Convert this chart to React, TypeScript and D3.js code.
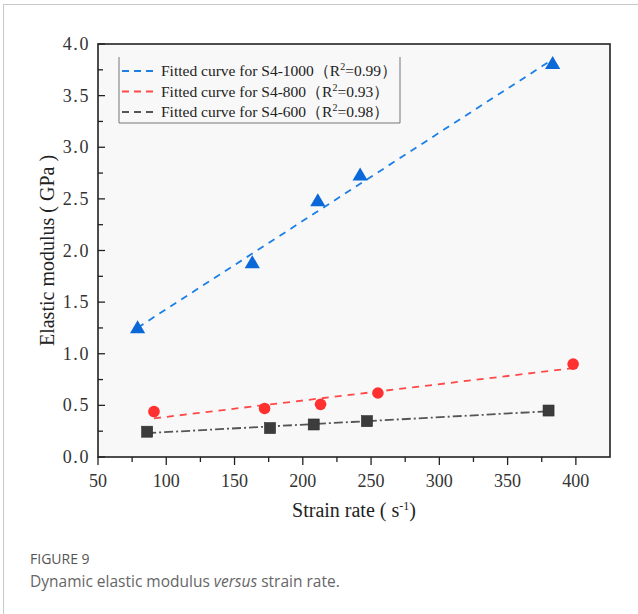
import React from 'react';
import * as d3 from 'd3';

// strain rate (s^-1) and elastic modulus (GPa)
const s1000X = [79, 163, 211, 242, 383];
const s1000Y = [1.24, 1.87, 2.47, 2.72, 3.80];
const s800X = [91, 172, 213, 255, 398];
const s800Y = [0.44, 0.47, 0.51, 0.62, 0.90];
const s600X = [86, 176, 208, 247, 380];
const s600Y = [0.245, 0.28, 0.315, 0.347, 0.45];

const xTicks = [50, 100, 150, 200, 250, 300, 350, 400];
const yTicks = [0.0, 0.5, 1.0, 1.5, 2.0, 2.5, 3.0, 3.5, 4.0];
const legendNames = ['Fitted curve for S4-1000', 'Fitted curve for S4-800', 'Fitted curve for S4-600'];
const legendR2 = ['0.99', '0.93', '0.98'];

const W = 638;
const H = 614;
const margin = { top: 44, right: 28, bottom: 157, left: 98 };

const serif = '"Liberation Serif", "Times New Roman", serif';
const sans = '"Open Sans", "Noto Sans", sans-serif';

const series = [
  { xs: s1000X, ys: s1000Y, shape: 'triangle', fill: '#0a68d8', stroke: '#1b7fe6', dash: '7,6' },
  { xs: s800X, ys: s800Y, shape: 'circle', fill: '#ff3030', stroke: '#ff4848', dash: '7,6' },
  { xs: s600X, ys: s600Y, shape: 'square', fill: '#3c3c3c', stroke: '#555555', dash: '9,3,2,3' },
];

// least squares line through the points
function fit(xs: number[], ys: number[]) {
  const mx = d3.mean(xs) as number;
  const my = d3.mean(ys) as number;
  const num = d3.sum(xs, (x, i) => (x - mx) * (ys[i] - my));
  const den = d3.sum(xs, (x) => (x - mx) * (x - mx));
  const b = num / den;
  const a = my - b * mx;
  const x0 = d3.min(xs) as number;
  const x1 = d3.max(xs) as number;
  return [[x0, a + b * x0], [x1, a + b * x1]] as [number, number][];
}

export default function App() {
  const fw = W - margin.left - margin.right;
  const fh = H - margin.top - margin.bottom;

  const x = d3.scaleLinear().domain([50, 425]).range([0, fw]);
  const y = d3.scaleLinear().domain([0, 4]).range([fh, 0]);

  const xMinor = d3.range(50, 425, 25);
  const yMinor = d3.range(0, 4.01, 0.25);

  const line = d3.line<[number, number]>()
    .x((d) => x(d[0]))
    .y((d) => y(d[1]));

  const marker = (shape: string, cx: number, cy: number, fill: string, key: number) => {
    if (shape === 'triangle') {
      const p = d3.symbol(d3.symbolTriangle, 100)();
      return <path key={key} d={p as string} transform={`translate(${cx},${cy})`} fill={fill} />;
    }
    if (shape === 'circle') {
      return <circle key={key} cx={cx} cy={cy} r={5.8} fill={fill} />;
    }
    return <rect key={key} x={cx - 5.5} y={cy - 5.5} width={11} height={11} fill={fill} stroke="#2a2a2a" strokeWidth={0.6} />;
  };

  return (
    <svg width={W} height={H} style={{ position: 'absolute', left: 0, top: 0, background: '#fff' }}>
      {/* card border */}
      <rect x={3.5} y={4.5} width={W + 10} height={H + 10} fill="none" stroke="#c8c8c8" strokeWidth={1} />

      <g transform={`translate(${margin.left},${margin.top})`}>
        <rect x={0} y={0} width={fw} height={fh} fill="#f8f8f8" />

        {/* y ticks, inward */}
        {yMinor.map((v, i) => (
          <line key={'ym' + i} x1={0} x2={Math.abs(v * 2 - Math.round(v * 2)) < 0.01 ? 7 : 5}
            y1={y(v)} y2={y(v)} stroke="#222" strokeWidth={1.3} />
        ))}
        {yTicks.map((v) => (
          <text key={'yt' + v} x={-8} y={y(v) + 6} textAnchor="end" fontFamily={serif}
            fontSize={18} letterSpacing={1.6} fill="#333">{v.toFixed(1)}</text>
        ))}

        {/* x ticks, outward */}
        {xMinor.map((v, i) => (
          <line key={'xm' + i} x1={x(v)} x2={x(v)} y1={fh}
            y2={fh + (v % 50 === 0 ? 8 : 5)} stroke="#222" strokeWidth={1.3} />
        ))}
        {xTicks.map((v) => (
          <text key={'xt' + v} x={x(v)} y={fh + 30} textAnchor="middle" fontFamily={serif}
            fontSize={18} fill="#333">{v}</text>
        ))}

        {/* fitted lines */}
        {series.map((s, i) => (
          <path key={'fit' + i} d={line(fit(s.xs, s.ys)) as string} fill="none"
            stroke={s.stroke} strokeWidth={1.8} strokeDasharray={s.dash} />
        ))}

        {/* points */}
        {series.map((s, i) => (
          <g key={'pts' + i}>
            {s.xs.map((v, j) => marker(s.shape, x(v), y(s.ys[j]), s.fill, j))}
          </g>
        ))}

        {/* legend */}
        <g transform="translate(21,13)">
          <line x1={0} x2={0} y1={0} y2={66} stroke="#777" strokeWidth={1} />
          <line x1={281} x2={281} y1={0} y2={66} stroke="#777" strokeWidth={1} />
          <line x1={0} x2={281} y1={66} y2={66} stroke="#777" strokeWidth={1} />
          {legendNames.map((name, i) => (
            <g key={'lg' + i} transform={`translate(0,${14 + i * 20.5})`}>
              <line x1={3} x2={38} y1={0} y2={0} stroke={series[i].stroke} strokeWidth={1.8}
                strokeDasharray="7,5" />
              <text x={42} y={5} fontFamily={serif} fontSize={15.5} fill="#222">
                {name}（R<tspan dy={-6} fontSize={10}>2</tspan><tspan dy={6}>={legendR2[i]}）</tspan>
              </text>
            </g>
          ))}
        </g>

        {/* frame */}
        <rect x={0} y={0} width={fw} height={fh} fill="none" stroke="#222" strokeWidth={1.6} />

        {/* axis titles */}
        <text x={fw / 2} y={fh + 60} textAnchor="middle" fontFamily={serif} fontSize={20} fill="#222">
          Strain rate ( s<tspan dy={-7} fontSize={12}>-1</tspan><tspan dy={7}>)</tspan>
        </text>
        <text transform={`translate(-44,${fh / 2}) rotate(-90)`} textAnchor="middle"
          fontFamily={serif} fontSize={20} fill="#222">Elastic modulus ( GPa )</text>
      </g>

      {/* caption */}
      <text x={30} y={564} fontFamily={sans} fontSize={14} fill="#555">FIGURE 9</text>
      <text x={30} y={587} fontFamily={sans} fontSize={15.5} fill="#666">
        Dynamic elastic modulus <tspan fontStyle="italic">versus</tspan> strain rate.
      </text>
    </svg>
  );
}
